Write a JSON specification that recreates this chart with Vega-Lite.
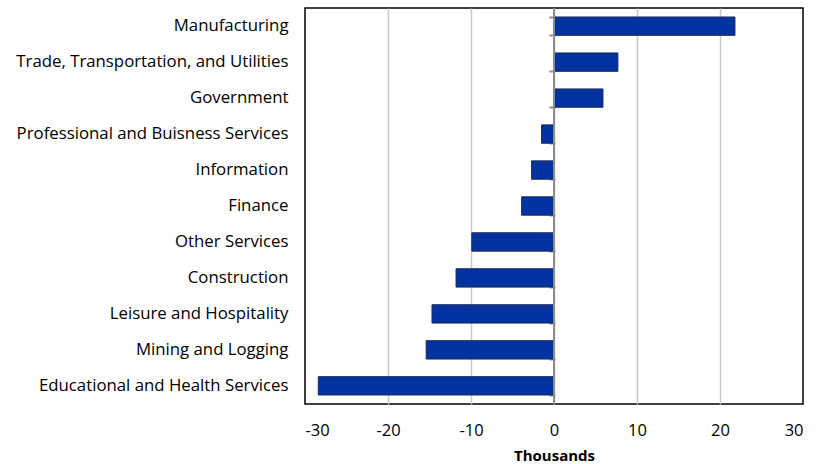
{
  "$schema": "https://vega.github.io/schema/vega-lite/v6.json",
  "autosize": "none",
  "padding": {"left": 305, "top": 8, "right": 13, "bottom": 60},
  "width": 498,
  "height": 396,
  "background": "white",
  "config": {
    "view": {"stroke": "#000000", "strokeWidth": 1.5},
    "font": "Open Sans"
  },
  "data": {
    "values": [
      {"sector": "Manufacturing", "change": 21.8},
      {"sector": "Trade, Transportation, and Utilities", "change": 7.7},
      {"sector": "Government", "change": 5.9},
      {"sector": "Professional and Buisness Services", "change": -1.5},
      {"sector": "Information", "change": -2.7},
      {"sector": "Finance", "change": -3.9},
      {"sector": "Other Services", "change": -9.9},
      {"sector": "Construction", "change": -11.8},
      {"sector": "Leisure and Hospitality", "change": -14.7},
      {"sector": "Mining and Logging", "change": -15.4},
      {"sector": "Educational and Health Services", "change": -28.4}
    ]
  },
  "resolve": {"axis": {"y": "independent"}},
  "layer": [
    {
      "mark": {"type": "bar", "color": "#0033a0", "stroke": "#1a2a5a", "strokeWidth": 1},
      "encoding": {
        "y": {
          "field": "sector", "type": "nominal", "sort": null,
          "scale": {"paddingInner": 0.49, "paddingOuter": 0.25},
          "axis": {
            "title": null, "orient": "left", "domain": false, "ticks": false,
            "labelFontSize": 16.8, "labelColor": "#000000", "labelPadding": 17,
            "labelLimit": 400, "labelFont": "Open Sans"
          }
        },
        "x": {
          "field": "change", "type": "quantitative",
          "scale": {"domain": [-30, 30], "nice": false, "zero": false},
          "axis": {
            "values": [-30, -20, -10, 0, 10, 20, 30],
            "labelExpr": "'' + datum.value",
            "title": "Thousands", "titleFontSize": 15, "titleFontWeight": "bold",
            "titleColor": "#000000", "titlePadding": 10,
            "labelFontSize": 16.5, "labelColor": "#000000", "labelPadding": 18,
            "domain": false, "ticks": false,
            "grid": true, "gridColor": "#c8c8c8", "gridWidth": 1.5,
            "gridOpacity": {"condition": {"test": "abs(datum.value) >= 30", "value": 0}, "value": 1}
          }
        }
      }
    },
    {
      "mark": {"type": "rule", "color": "#8c8c8c", "strokeWidth": 2},
      "encoding": {
        "x": {"datum": 0, "type": "quantitative"}
      }
    },
    {
      "mark": {"type": "tick", "opacity": 0},
      "encoding": {
        "x": {"datum": 0, "type": "quantitative"},
        "y": {
          "field": "sector", "type": "nominal", "sort": null,
          "axis": {
            "title": null, "orient": "left", "offset": -250, "labels": false,
            "domain": false, "ticks": true, "tickBand": "extent",
            "tickColor": "#8c8c8c", "tickSize": 6, "tickWidth": 2, "grid": false
          }
        }
      }
    }
  ]
}
